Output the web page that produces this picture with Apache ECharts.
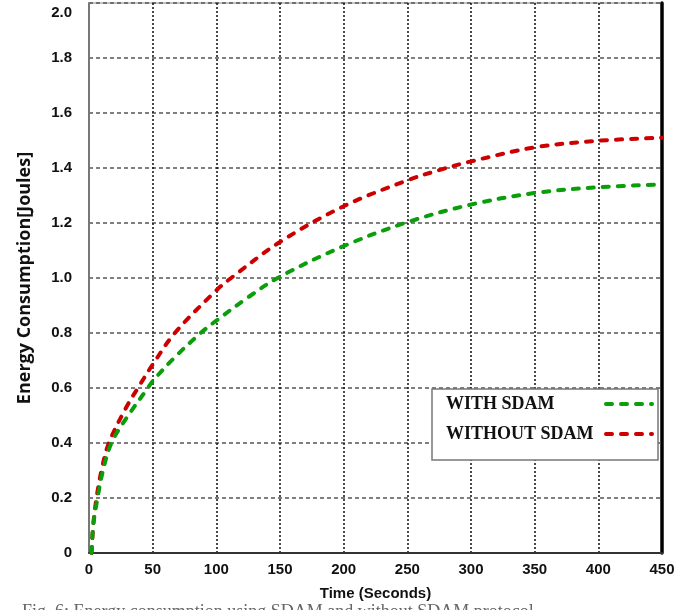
<!DOCTYPE html>
<html>
<head>
<meta charset="utf-8">
<script src="https://cdn.jsdelivr.net/npm/echarts@6/dist/echarts.min.js"></script>
<style>
  html, body { margin: 0; padding: 0; background: #ffffff; }
  #chart { width: 695px; height: 610px; }
</style>
</head>
<body>
<div id="chart"></div>
<script>
// ---- data ----
const seriesNames = ['WITH SDAM', 'WITHOUT SDAM'];
const withSdamX    = [2, 3.3, 6.7, 11, 17.6, 29.3, 46.2, 50, 67, 87.7, 100, 125, 150, 200, 250, 300, 350, 400, 450];
const withSdamY    = [0, 0.10, 0.20, 0.30, 0.40, 0.49, 0.60, 0.625, 0.71, 0.80, 0.845, 0.93, 1.005, 1.116, 1.203, 1.267, 1.309, 1.330, 1.340];
const withoutSdamX = [2, 3.5, 5.9, 9.8, 15.6, 29.3, 38.4, 50, 67.4, 100, 111.6, 150, 200, 250, 277, 300, 350, 400, 450];
const withoutSdamY = [0, 0.11, 0.20, 0.30, 0.40, 0.53, 0.60, 0.685, 0.80, 0.955, 1.00, 1.131, 1.261, 1.355, 1.395, 1.424, 1.475, 1.499, 1.510];
const xTicks = [0, 50, 100, 150, 200, 250, 300, 350, 400, 450];
const yTicks = [0, 0.2, 0.4, 0.6, 0.8, 1.0, 1.2, 1.4, 1.6, 1.8, 2.0];
const xTitle = 'Time (Seconds)';
const yTitle = 'Energy Consumption[Joules]';
const caption = 'Fig. 6: Energy consumption using SDAM and without SDAM protocol';

function pairs(xs, ys) { return xs.map((x, i) => [x, ys[i]]); }

const chart = echarts.init(document.getElementById('chart'), null, { renderer: 'canvas' });
const labelFont = { fontFamily: 'Liberation Sans, Arial, sans-serif', fontWeight: 'bold', fontSize: 15, color: '#111' };

chart.setOption({
  backgroundColor: '#ffffff',
  animation: false,
  title: {
    text: caption,
    left: 22,
    top: 603,
    padding: 0,
    textStyle: { fontFamily: 'Liberation Serif, Times New Roman, serif', fontWeight: 'normal', fontSize: 18, color: '#666' }
  },
  grid: { left: 89, right: 33, top: 3, bottom: 57, show: true, borderColor: '#888', borderWidth: 1 },
  legend: {
    data: seriesNames,
    orient: 'vertical',
    left: 432,
    top: 389,
    align: 'right',
    backgroundColor: '#ffffff',
    borderColor: '#777',
    borderWidth: 1.5,
    borderRadius: 0,
    padding: [6, 4, 17, 14],
    itemGap: 12,
    itemWidth: 46,
    itemHeight: 14,
    itemStyle: { opacity: 0 },
    lineStyle: { width: 4 },
    formatter: function (name) { return '{t|' + name + '}'; },
    textStyle: {
      rich: {
        t: { width: 155, align: 'left', fontFamily: 'Liberation Serif, Times New Roman, serif', fontWeight: 'bold', fontSize: 18, color: '#111' }
      }
    }
  },
  xAxis: {
    type: 'value',
    min: xTicks[0],
    max: xTicks[xTicks.length - 1],
    interval: 50,
    name: xTitle,
    nameLocation: 'middle',
    nameGap: 33,
    nameTextStyle: { fontFamily: 'Liberation Sans, Arial, sans-serif', fontWeight: 'bold', fontSize: 15, color: '#111' },
    axisLine: { show: true, lineStyle: { color: '#333', width: 2 } },
    axisTick: { show: false },
    axisLabel: Object.assign({ margin: 9 }, labelFont),
    splitLine: { show: true, lineStyle: { color: '#111', width: 1.5, type: [2, 2] } }
  },
  yAxis: [{
    type: 'value',
    min: yTicks[0],
    max: yTicks[yTicks.length - 1],
    interval: 0.2,
    name: yTitle,
    nameLocation: 'middle',
    nameGap: 55,
    nameTextStyle: { fontFamily: 'Open Sans, Lato, sans-serif', fontWeight: 'bold', fontSize: 18, color: '#111' },
    axisLine: { show: true, lineStyle: { color: '#777', width: 2 } },
    axisTick: { show: false },
    axisLabel: Object.assign({
      margin: 17,
      formatter: function (v) {
        if (v === 0) return '0';
        if (Math.abs(v - 2) < 1e-9) return '{top|2.0}';
        return v.toFixed(1);
      },
      rich: { top: { padding: [20, 0, 0, 0], fontFamily: 'Liberation Sans, Arial, sans-serif', fontWeight: 'bold', fontSize: 15, color: '#111' } }
    }, labelFont),
    splitLine: { show: true, lineStyle: { color: '#555', width: 1.5, type: [4, 3] } }
  }, {
    type: 'value',
    position: 'right',
    min: yTicks[0],
    max: yTicks[yTicks.length - 1],
    interval: 0.2,
    axisLine: { show: true, lineStyle: { color: '#000', width: 3.5 } },
    axisTick: { show: false },
    axisLabel: { show: false },
    splitLine: { show: false }
  }],
  series: [{
    name: 'WITHOUT SDAM',
    type: 'line',
    smooth: 0.35,
    symbol: 'none',
    data: pairs(withoutSdamX, withoutSdamY),
    itemStyle: { color: '#cc0000' },
    lineStyle: { color: '#cc0000', width: 4, type: [6, 9], cap: 'round' },
    z: 3
  }, {
    name: 'WITH SDAM',
    type: 'line',
    smooth: 0.35,
    symbol: 'none',
    data: pairs(withSdamX, withSdamY),
    itemStyle: { color: '#0a9e0a' },
    lineStyle: { color: '#0a9e0a', width: 4, type: [6, 9], cap: 'round' },
    z: 4
  }]
});
</script>
</body>
</html>
